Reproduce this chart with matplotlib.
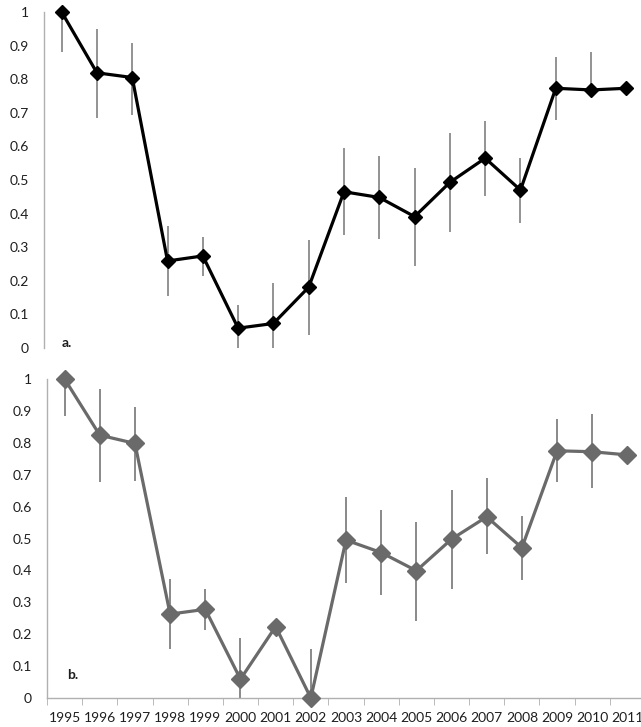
import matplotlib
matplotlib.use("Agg")
import matplotlib.pyplot as plt
import numpy as np

plt.rcParams["font.family"] = ["Lato", "DejaVu Sans"]

years = [str(y) for y in range(1995, 2012)]

# panel a
a_vals = [1.0, 0.819, 0.805, 0.259, 0.274, 0.059, 0.073, 0.181, 0.465,
          0.448, 0.391, 0.493, 0.565, 0.470, 0.773, 0.768, 0.773]
a_lo = [0.12, 0.135, 0.112, 0.104, 0.06, 0.059, 0.073, 0.142, 0.129,
        0.125, 0.146, 0.149, 0.113, 0.097, 0.094, 0.0, 0.0]
a_hi = [0.0, 0.129, 0.104, 0.104, 0.057, 0.069, 0.12, 0.14, 0.129,
        0.124, 0.144, 0.148, 0.112, 0.096, 0.092, 0.114, 0.0]

# panel b
b_vals = [1.0, 0.824, 0.798, 0.263, 0.278, 0.059, 0.224, 0.0, 0.495,
          0.456, 0.399, 0.498, 0.568, 0.471, 0.775, 0.772, 0.762]
b_lo = [0.117, 0.146, 0.117, 0.11, 0.065, 0.059, 0.0, 0.0, 0.136,
        0.133, 0.157, 0.156, 0.117, 0.101, 0.099, 0.115, 0.0]
b_hi = [0.0, 0.144, 0.113, 0.11, 0.063, 0.128, 0.0, 0.153, 0.136,
        0.133, 0.154, 0.154, 0.121, 0.1, 0.1, 0.118, 0.0]

yticks = [0, 0.1, 0.2, 0.3, 0.4, 0.5, 0.6, 0.7, 0.8, 0.9, 1]
ytick_labels = ["0", "0.1", "0.2", "0.3", "0.4", "0.5", "0.6", "0.7", "0.8", "0.9", "1"]

W, H = 641, 727
fig = plt.figure(figsize=(W / 100, H / 100), dpi=100)

def px_axes(left, right, top, bottom):
    return fig.add_axes([left / W, (H - bottom) / H, (right - left) / W, (bottom - top) / H])

ax_a = px_axes(44, 644, 12, 348)
ax_b = px_axes(47, 645, 379, 698)

x = np.arange(len(years))
axis_grey = "#b0b0b0"
txt = "#1e1e1e"

def style(ax, vals, lo, hi, color, msize, ecolor, show_x):
    ax.errorbar(x, vals, yerr=[lo, hi], fmt="none", ecolor=ecolor,
                elinewidth=1.3, capsize=0, zorder=1)
    ax.plot(x, vals, color=color, lw=2.3, marker="D", markersize=msize,
            markerfacecolor=color, markeredgecolor=color, zorder=3, clip_on=False)
    ax.set_xlim(-0.5, len(years) - 0.5)
    ax.set_ylim(0, 1)
    ax.set_yticks(yticks)
    ax.set_yticklabels(ytick_labels, fontsize=10, color=txt)
    ax.tick_params(axis="y", length=0, pad=11)
    for s in ["top", "right"]:
        ax.spines[s].set_visible(False)
    ax.spines["left"].set_color(axis_grey)
    ax.spines["left"].set_linewidth(1.0)
    if show_x:
        ax.spines["bottom"].set_color(axis_grey)
        ax.spines["bottom"].set_linewidth(1.0)
        ax.set_xticks(x)
        ax.set_xticklabels(years, fontsize=10, color=txt)
        ax.set_xticks(np.arange(-0.5, len(years), 1.0), minor=True)
        ax.tick_params(axis="x", which="major", length=0, pad=10)
        ax.tick_params(axis="x", which="minor", length=5, color=axis_grey, direction="out")
    else:
        ax.spines["bottom"].set_visible(False)
        ax.set_xticks([])

style(ax_a, a_vals, a_lo, a_hi, "black", 7, "#8a8a8a", False)
style(ax_b, b_vals, b_lo, b_hi, "#6a6a6a", 9.5, "#808080", True)

ax_a.text(0.01, 0.015, "a.", fontsize=10, fontweight="bold", color=txt,
          va="center", ha="left")
ax_b.text(0.07, 0.072, "b.", fontsize=10, fontweight="bold", color=txt,
          va="center", ha="left")

fig.savefig("out.png", dpi=100)
